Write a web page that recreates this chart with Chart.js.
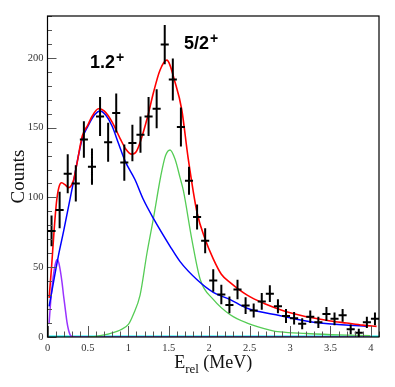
<!DOCTYPE html>
<html>
<head>
<meta charset="utf-8">
<script src="https://cdn.jsdelivr.net/npm/chart.js@4.4.1/dist/chart.umd.min.js"></script>
<style>
  html, body { margin: 0; padding: 0; background: #fff; }
  #wrap { width: 395px; height: 387px; }
</style>
</head>
<body>
<div id="wrap"><canvas id="spectrumChart"></canvas></div>
<script>
// measured spectrum, 0.1 MeV bins
const binCenters = [0.05, 0.15, 0.25, 0.35, 0.45, 0.55, 0.65, 0.75, 0.85, 0.95,
  1.05, 1.15, 1.25, 1.35, 1.45, 1.55, 1.65, 1.75, 1.85, 1.95,
  2.05, 2.15, 2.25, 2.35, 2.45, 2.55, 2.65, 2.75, 2.85, 2.95,
  3.05, 3.15, 3.25, 3.35, 3.45, 3.55, 3.65, 3.75, 3.85, 3.95, 4.05];
const counts = [76, 91, 117, 110, 141.5, 122, 158, 139.5, 160.5, 125,
  139, 145, 158, 163.5, 209.5, 184.5, 150.5, 112, 86, 69,
  40.5, 30.5, 23, 34, 22.5, 19, 25.5, 31, 22, 15,
  13.5, 9.5, 14.5, 10.5, 16.5, 13, 15.5, 5.5, 3, 10.5, 13];
const countErrors = [11, 13, 14, 13, 13, 13, 14, 14, 14, 13,
  13, 13, 14, 14, 14, 15, 14, 10, 9, 9,
  8, 7, 6, 7, 6, 5, 6, 6, 5, 5,
  4.5, 4, 4.5, 4, 5, 4.5, 4.5, 3.5, 3, 4, 4.5];
const halfBin = 0.05;

// fit curves
const totalX = [0.02, 0.05, 0.08, 0.11, 0.14, 0.175, 0.22, 0.26, 0.32, 0.36, 0.43, 0.5, 0.55, 0.63, 0.7, 0.8, 0.9, 0.97, 1.04, 1.1,
  1.23, 1.31, 1.39, 1.475, 1.58, 1.66, 1.74, 1.85, 1.95, 2.05, 2.15, 2.26, 2.47, 2.68, 2.88, 3.1, 3.29, 3.5, 3.7, 3.9, 4.07];
const totalY = [28, 50, 75, 96, 107, 110.5, 109, 107, 112, 123, 144, 152, 158, 163.5, 162, 154, 142, 134.5, 131, 133,
  156, 175, 191, 198.4, 182, 163, 128, 89, 70, 56, 45, 39, 30, 24, 19.6, 16, 13.6, 11.5, 10, 8.5, 7.6];

const broadX = [0.02, 0.134, 0.2, 0.3, 0.43, 0.5, 0.58, 0.65, 0.72, 0.8, 0.876, 0.96, 1.08, 1.186, 1.31, 1.516, 1.64, 1.85, 2.05, 2.26, 2.46, 2.88, 3.29, 3.95];
const broadY = [22, 58, 76, 105, 142, 151, 159, 162, 159, 151, 139, 126, 113, 98.5, 85, 65, 54, 41, 32, 26.8, 20.8, 15.3, 10.5, 7.6];

const peakX = [0.5, 0.6, 0.7, 0.8, 0.9, 1.0, 1.06, 1.145, 1.23, 1.31, 1.4, 1.46, 1.516, 1.58, 1.64, 1.68, 1.785, 1.89, 2.05, 2.26, 2.47, 2.75, 2.88, 3.2, 3.6, 3.99];
const peakY = [0, 0.5, 1.5, 3, 5, 9, 16, 30, 60, 85, 115, 130, 134, 127, 114, 105, 70, 41, 27, 16, 10, 5, 3.6, 2.5, 1.5, 1];

const lowX = [0.02, 0.04, 0.06, 0.08, 0.1, 0.12, 0.14, 0.16, 0.18, 0.2, 0.22, 0.24, 0.26, 0.28, 0.3, 0.35, 1, 2, 3, 4];
const lowY = [10, 26, 38, 47, 53, 55.5, 53, 47, 39, 29, 20, 11, 5, 1.5, 0.3, 0, 0, 0, 0, 0];

const baseX = [0, 4.1];
const baseY = [0, 0];

const xTickStep = 0.5, xMinorStep = 0.1;
const yTickStep = 50, yMinorStep = 10;

function toPoints(xs, ys) {
  return xs.map((v, i) => ({ x: v, y: ys[i] }));
}

function curve(xs, ys, color, width) {
  return {
    data: toPoints(xs, ys),
    borderColor: color,
    borderWidth: width,
    pointRadius: 0,
    fill: false,
    cubicInterpolationMode: 'monotone'
  };
}

const errorBars = {
  id: 'errorBars',
  afterDatasetsDraw(chart) {
    const { ctx, chartArea: a, scales: { x, y } } = chart;
    ctx.save();
    ctx.beginPath();
    ctx.rect(a.left, a.top, a.right - a.left, a.bottom - a.top);
    ctx.clip();
    ctx.strokeStyle = '#000';
    ctx.lineWidth = 2;
    ctx.beginPath();
    binCenters.forEach((e, i) => {
      const px = x.getPixelForValue(e);
      const py = y.getPixelForValue(counts[i]);
      ctx.moveTo(x.getPixelForValue(e - halfBin), py);
      ctx.lineTo(x.getPixelForValue(e + halfBin), py);
      ctx.moveTo(px, y.getPixelForValue(counts[i] - countErrors[i]));
      ctx.lineTo(px, y.getPixelForValue(counts[i] + countErrors[i]));
    });
    ctx.stroke();
    ctx.restore();
  }
};

// ROOT style frame: ticks inside, titles, state labels
const frame = {
  id: 'frame',
  afterDraw(chart) {
    const { ctx, chartArea: a, scales: { x, y } } = chart;
    ctx.save();
    ctx.strokeStyle = '#555';
    ctx.lineWidth = 1;
    ctx.beginPath();
    for (let v = 0; v <= x.max + 1e-6; v += xMinorStep) {
      const px = Math.round(x.getPixelForValue(v)) + 0.5;
      const major = Math.abs(v / xTickStep - Math.round(v / xTickStep)) < 1e-6;
      ctx.moveTo(px, a.bottom);
      ctx.lineTo(px, a.bottom - (major ? 11 : 5.5));
    }
    for (let v = 0; v <= y.max + 1e-6; v += yMinorStep) {
      const py = Math.round(y.getPixelForValue(v)) + 0.5;
      const major = v % yTickStep === 0;
      ctx.moveTo(a.left, py);
      ctx.lineTo(a.left + (major ? 9 : 4.5), py);
    }
    ctx.stroke();

    ctx.strokeStyle = '#000';
    ctx.lineWidth = 1.2;
    ctx.strokeRect(a.left, a.top, a.right - a.left, a.bottom - a.top);

    // axis titles
    ctx.fillStyle = '#111';
    ctx.textBaseline = 'alphabetic';
    const main = '18px "Liberation Serif"', sub = '13px "Liberation Serif"';
    ctx.font = main;
    const wE = ctx.measureText('E').width;
    const wU = ctx.measureText(' (MeV)').width;
    ctx.font = sub;
    const wR = ctx.measureText('rel').width;
    let tx = (a.left + a.right) / 2 - (wE + wR + wU) / 2;
    const ty = a.bottom + 31;
    ctx.textAlign = 'left';
    ctx.font = main;
    ctx.fillText('E', tx, ty);
    ctx.font = sub;
    ctx.fillText('rel', tx + wE, ty + 4.5);
    ctx.font = main;
    ctx.fillText(' (MeV)', tx + wE + wR, ty);

    ctx.save();
    ctx.translate(24, (a.top + a.bottom) / 2);
    ctx.rotate(-Math.PI / 2);
    ctx.textAlign = 'center';
    ctx.font = '19px "Liberation Serif"';
    ctx.fillText('Counts', 0, 0);
    ctx.restore();

    // state labels
    ctx.fillStyle = '#000';
    ctx.textAlign = 'left';
    const states = [['1.2', 0.526, 193], ['5/2', 1.689, 206]];
    states.forEach(([txt, e, c]) => {
      const sx = x.getPixelForValue(e), sy = y.getPixelForValue(c);
      ctx.font = 'bold 18px "Liberation Sans"';
      const w = ctx.measureText(txt).width;
      ctx.fillText(txt, sx, sy);
      ctx.font = 'bold 14px "Liberation Sans"';
      ctx.fillText('+', sx + w + 1, sy - 6);
    });
    ctx.restore();
  }
};

new Chart(document.getElementById('spectrumChart').getContext('2d'), {
  type: 'line',
  data: {
    datasets: [
      curve(totalX, totalY, '#ff0000', 1.6),
      curve(broadX, broadY, '#0000ff', 1.5),
      curve(peakX, peakY, '#55cc55', 1.3),
      curve(lowX, lowY, '#9933ff', 1.5),
      curve(baseX, baseY, '#00eeee', 3)
    ]
  },
  options: {
    responsive: true,
    maintainAspectRatio: false,
    animation: false,
    layout: { padding: { top: 16, right: 16, left: 0, bottom: 0 } },
    plugins: {
      legend: { display: false },
      tooltip: { enabled: false }
    },
    scales: {
      x: {
        type: 'linear',
        min: 0,
        max: 4.1,
        afterFit: scale => { scale.height = 50; },
        afterBuildTicks: scale => {
          scale.ticks = scale.ticks.filter(t => Math.abs(t.value / xTickStep - Math.round(t.value / xTickStep)) < 1e-6);
        },
        grid: { display: false, drawTicks: false },
        border: { display: false },
        ticks: {
          stepSize: xTickStep,
          includeBounds: false,
          padding: 5,
          maxRotation: 0,
          autoSkip: false,
          color: '#333',
          font: { family: 'Liberation Serif', size: 10.5 },
          callback: v => String(Number(v.toFixed(2)))
        }
      },
      y: {
        min: 0,
        max: 230,
        afterFit: scale => { scale.width = 47.5; },
        afterBuildTicks: scale => {
          scale.ticks = scale.ticks.filter(t => t.value % yTickStep === 0);
        },
        grid: { display: false, drawTicks: false },
        border: { display: false },
        ticks: {
          stepSize: yTickStep,
          includeBounds: false,
          padding: 4,
          color: '#333',
          font: { family: 'Liberation Serif', size: 10.5 }
        }
      }
    }
  },
  plugins: [errorBars, frame]
});
</script>
</body>
</html>
